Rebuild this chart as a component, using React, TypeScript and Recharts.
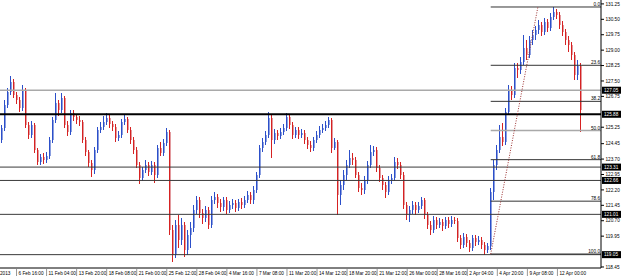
import { ComposedChart, Bar, XAxis, YAxis, ReferenceLine } from 'recharts'

// USDJPY-style 4H candles (open = previous close)
const firstOpen = 124.63

const closes = [
  125.21, 126.33, 126.96, 127.45, 126.82, 126.57, 126.18, 127.06, 125.36, 124.87,
  125.36, 124.14, 123.55, 123.8, 123.65, 123.85, 124.63, 125.6, 126.42, 126.09,
  126.67, 125.36, 125.01, 125.94, 125.75, 125.6, 125.5, 124.63, 124.04, 123.5,
  123.17, 124.14, 125.11, 125.26, 125.5, 125.7, 125.41, 125.26, 124.72, 124.87,
  125.5, 125.65, 125.11, 124.63, 124.14, 123.41, 122.78, 123.17, 123.41, 123.07,
  123.41, 122.93, 124.24, 123.99, 124.48, 125.01, 120.25, 119.04, 120.49, 119.76,
  120.49, 119.28, 120.01, 120.34, 121.22, 121.71, 121.07, 120.83, 121.22, 120.49,
  121.71, 121.85, 121.56, 121.37, 121.71, 121.22, 121.47, 121.56, 121.32, 121.61,
  121.47, 121.71, 121.95, 121.71, 122.19, 122.93, 124.24, 124.53, 124.87, 125.7,
  124.63, 124.96, 124.82, 125.01, 125.21, 125.75, 125.36, 124.87, 125.11, 124.87,
  124.96, 124.63, 124.39, 124.24, 124.63, 124.87, 125.11, 125.21, 125.36, 125.6,
  124.24, 124.53, 121.95, 122.44, 122.93, 123.41, 123.75, 123.65, 122.93, 122.29,
  122.19, 122.68, 123.41, 124.04, 124.14, 123.26, 122.78, 122.44, 122.09, 122.68,
  122.78, 123.55, 123.41, 122.93, 121.47, 120.98, 121.22, 121.47, 121.22, 121.42,
  121.71, 120.98, 120.49, 120.25, 120.73, 120.49, 120.63, 120.44, 120.73, 120.54,
  120.73, 120.7, 119.86, 119.52, 119.91, 119.61, 119.37, 119.86, 119.66, 119.76,
  119.52, 119.28, 119.47, 122.09, 123.41, 124.14, 124.77, 124.53, 125.99, 127.06,
  126.82, 128.13, 128.03, 128.42, 129.1, 128.77, 129.49, 129.74, 129.98, 130.23,
  129.88, 130.37, 130.08, 130.61, 130.85, 130.71, 130.23, 129.88, 129.49, 129.25,
  128.77, 127.79, 128.23, 126.09,
]

const highs = [
  125.36, 126.57, 127.16, 127.74, 127.59, 126.96, 126.72, 127.3, 127.16, 125.5,
  125.55, 125.45, 124.24, 123.95, 123.99, 124.04, 124.77, 125.75, 126.91, 126.57,
  126.91, 126.77, 125.55, 126.09, 126.09, 125.9, 125.8, 125.6, 124.77, 124.14,
  123.65, 124.29, 125.26, 125.5, 125.8, 125.94, 125.85, 125.55, 125.41, 125.06,
  125.65, 125.9, 125.75, 125.26, 124.77, 124.29, 123.55, 123.32, 123.65, 123.55,
  123.6, 123.55, 124.39, 124.53, 124.68, 125.21, 125.11, 120.49, 120.73, 120.98,
  120.83, 120.63, 120.25, 120.63, 121.47, 121.9, 121.85, 121.27, 121.42, 121.37,
  121.9, 122.09, 122.0, 121.76, 121.85, 121.85, 121.66, 121.76, 121.71, 121.76,
  121.81, 121.9, 122.14, 122.09, 122.39, 123.07, 124.39, 124.72, 125.06, 125.99,
  125.85, 125.16, 125.11, 125.21, 125.41, 125.94, 125.85, 125.5, 125.26, 125.26,
  125.16, 125.11, 124.77, 124.58, 124.77, 125.06, 125.31, 125.41, 125.55, 125.75,
  125.7, 124.72, 124.63, 122.68, 123.17, 123.65, 124.14, 123.99, 123.8, 123.07,
  122.54, 122.88, 123.6, 124.39, 124.34, 124.29, 123.41, 122.93, 122.58, 122.88,
  122.98, 123.8, 123.75, 123.55, 123.07, 121.61, 121.42, 121.66, 121.61, 121.61,
  121.85, 121.81, 121.12, 120.68, 120.93, 120.88, 120.83, 120.78, 120.88, 120.88,
  120.93, 120.88, 120.83, 120.01, 120.1, 120.06, 119.76, 120.01, 120.01, 119.96,
  119.91, 119.66, 119.61, 122.29, 123.65, 124.39, 125.36, 125.45, 126.18, 127.3,
  127.25, 128.37, 128.37, 128.67, 129.74, 129.49, 129.69, 129.98, 130.18, 130.47,
  130.37, 130.56, 130.51, 130.8, 131.1, 131.0, 130.85, 130.42, 130.03, 129.69,
  129.39, 128.91, 128.52, 128.37,
]

const lows = [
  124.48, 125.06, 126.18, 126.82, 126.67, 126.38, 125.99, 126.04, 125.21, 124.68,
  124.72, 123.99, 123.41, 123.41, 123.46, 123.5, 123.7, 124.48, 125.45, 125.8,
  125.94, 125.21, 124.82, 124.87, 125.55, 125.41, 125.31, 124.48, 123.85, 123.32,
  122.83, 122.98, 123.99, 124.96, 125.11, 125.36, 125.21, 125.06, 124.53, 124.58,
  124.72, 125.36, 124.96, 124.43, 123.95, 123.26, 122.49, 122.63, 123.02, 122.88,
  122.93, 122.54, 122.78, 123.85, 123.85, 124.34, 120.01, 118.69, 118.89, 119.37,
  119.52, 118.94, 119.04, 119.37, 120.15, 121.03, 120.83, 120.54, 120.63, 120.29,
  120.34, 121.51, 121.32, 121.12, 121.17, 121.03, 121.07, 121.27, 121.12, 121.17,
  121.27, 121.32, 121.56, 121.51, 121.51, 122.04, 122.78, 124.04, 124.39, 124.72,
  123.75, 124.43, 124.63, 124.68, 124.87, 125.06, 125.16, 124.68, 124.72, 124.68,
  124.72, 124.43, 124.19, 124.04, 124.09, 124.48, 124.72, 124.96, 125.06, 125.21,
  123.99, 124.14, 120.98, 121.47, 122.19, 122.68, 123.26, 123.41, 122.78, 122.09,
  121.95, 122.0, 122.49, 123.26, 123.85, 123.07, 122.58, 122.19, 121.81, 121.95,
  122.49, 122.63, 123.21, 122.73, 121.27, 120.73, 120.63, 121.03, 120.98, 121.07,
  121.27, 120.78, 120.29, 120.01, 120.1, 120.29, 120.34, 120.2, 120.29, 120.34,
  120.39, 120.54, 119.66, 119.32, 119.37, 119.42, 119.18, 119.23, 119.47, 119.52,
  119.32, 119.04, 119.13, 119.28, 121.71, 123.17, 123.99, 124.34, 124.39, 125.85,
  126.57, 126.67, 127.64, 127.84, 128.28, 128.52, 128.62, 129.25, 129.49, 129.79,
  129.69, 129.74, 129.88, 129.93, 130.47, 130.51, 130.03, 129.69, 129.25, 128.91,
  128.52, 127.55, 127.55, 125.01,
]

const timeTicks = [5, 15, 25, 35, 45, 55, 65, 75, 85, 95, 105, 115, 125, 135, 145, 155, 165, 175, 185]
const timeLabels = [
  '6 Feb 16:00', '11 Feb 04:00', '13 Feb 20:00', '18 Feb 08:00', '21 Feb 00:00',
  '25 Feb 12:00', '28 Feb 04:00', '4 Mar 16:00', '7 Mar 08:00', '11 Mar 20:00',
  '14 Mar 12:00', '18 Mar 20:00', '21 Mar 12:00', '26 Mar 00:00', '28 Mar 16:00',
  '2 Apr 04:00', '4 Apr 20:00', '9 Apr 08:00', '12 Apr 00:00',
]

const priceTicks = [
  131.25, 130.5, 129.75, 129.0, 128.25, 127.5, 126.75, 125.25,
  124.45, 123.7, 122.95, 122.2, 121.45, 120.7, 119.95, 118.45,
]

// horizontal support / resistance lines
const levels = [127.05, 125.88, 123.31, 122.66, 121.01, 119.05]

// fibonacci retracement
const fibLow = 119.08
const fibHigh = 131.1
const fibRatios = [0, 23.6, 38.2, 50, 61.8, 78.6, 100]
const fibLowBar = 162.8
const fibHighBar = 178.5

const SLOTS = 200
const UP = '#2c4fc9'
const UP_BODY = '#8b9fe0'
const DOWN = '#d62222'
const DOWN_BODY = '#e39a9e'
const FONT = 4.7

const bars = closes.map((c, i) => ({
  i,
  open: i === 0 ? firstOpen : closes[i - 1],
  high: highs[i],
  low: lows[i],
  close: c,
  range: [lows[i], highs[i]],
}))

function Candle(props: any) {
  const { x, y, width, height, payload } = props
  if (!payload || height == null) return null
  const { open, close, high, low } = payload
  const k = height / Math.max(high - low, 1e-6)
  const py = (p: number) => y + (high - p) * k
  const up = close >= open
  const cx = Math.round(x + width / 2)
  const top = py(Math.max(open, close))
  const bot = py(Math.min(open, close))
  return (
    <g shapeRendering="crispEdges">
      <rect x={cx - 1} y={top} width={2} height={Math.max(bot - top, 1)} fill={up ? UP_BODY : DOWN_BODY} />
      <line x1={cx - 0.5} x2={cx - 0.5} y1={y} y2={y + height} stroke={up ? UP : DOWN} strokeWidth={1} />
    </g>
  )
}

function TimeTick(props: any) {
  const { x, y, payload } = props
  const idx = timeTicks.indexOf(payload.value)
  const text = idx >= 0 ? timeLabels[idx] : '2013'
  return (
    <g>
      {idx >= 0 && <line x1={x} x2={x} y1={y + 1} y2={y + 8} stroke="#999" />}
      <text x={idx >= 0 ? x + 2 : x} y={y + 7.3} fontSize={FONT} fill="#000">
        {text}
      </text>
    </g>
  )
}

function PriceBox(props: any) {
  const { viewBox, text } = props
  const yy = viewBox.y
  const xx = viewBox.x + viewBox.width + 1
  return (
    <g>
      <rect x={xx} y={yy - 3.5} width={19} height={7} fill="#000" />
      <text x={xx + 2} y={yy + 1.8} fontSize={FONT} fill="#fff">
        {text}
      </text>
    </g>
  )
}

function FibLabel(props: any) {
  const { viewBox, text } = props
  return (
    <text x={viewBox.x + viewBox.width - 1} y={viewBox.y - 1} fontSize={FONT} fill="#000" textAnchor="end">
      {text}
    </text>
  )
}

export default function App() {
  return (
    <div style={{ position: 'absolute', left: 0, top: 0, width: 625, height: 278, background: '#fff', fontFamily: 'Liberation Sans, Arial, sans-serif' }}>
      <ComposedChart width={625} height={278} data={bars} margin={{ top: 0, right: 0, bottom: 0, left: 0 }}>
        <XAxis
          dataKey="i"
          type="number"
          domain={[-0.5, SLOTS - 0.5]}
          ticks={[-0.5, ...timeTicks]}
          interval={0}
          tick={<TimeTick />}
          tickLine={false}
          tickSize={0}
          tickMargin={0}
          height={10}
          axisLine={{ stroke: '#000' }}
          allowDataOverflow
        />
        <YAxis
          orientation="right"
          type="number"
          domain={[118.4, 131.44]}
          ticks={priceTicks}
          interval={0}
          width={24}
          tickSize={3}
          tickMargin={1.5}
          tick={{ fontSize: FONT, fill: '#000' }}
          tickLine={{ stroke: '#000' }}
          axisLine={{ stroke: '#000' }}
          tickFormatter={(v: number) => v.toFixed(2)}
          allowDataOverflow
        />
        <Bar dataKey="range" barSize={3} shape={<Candle />} isAnimationActive={false} />
        {levels.map((p, k) => (
          <ReferenceLine
            key={'lv' + k}
            y={p}
            stroke={k === 0 ? '#a9a9a9' : k === 1 ? '#000' : '#3a3a3a'}
            strokeWidth={k === 0 ? 1.5 : k === 1 ? 2 : 1}
            label={(lp: any) => <PriceBox viewBox={lp.viewBox} text={p.toFixed(2)} />}
          />
        ))}
        {fibRatios.map((r, k) => {
          const p = fibHigh - ((fibHigh - fibLow) * r) / 100
          return (
            <ReferenceLine
              key={'fib' + k}
              segment={[{ x: fibLowBar, y: p }, { x: SLOTS - 0.5, y: p }]}
              stroke={r === 50 ? '#a9a9a9' : '#333'}
              strokeWidth={r === 50 ? 1.5 : 1}
              label={(lp: any) => <FibLabel viewBox={lp.viewBox} text={r.toFixed(1)} />}
            />
          )
        })}
        <ReferenceLine
          segment={[{ x: fibLowBar, y: fibLow }, { x: fibHighBar, y: fibHigh }]}
          stroke="#9c2f2f"
          strokeDasharray="1 1.5"
        />
      </ComposedChart>
    </div>
  )
}
